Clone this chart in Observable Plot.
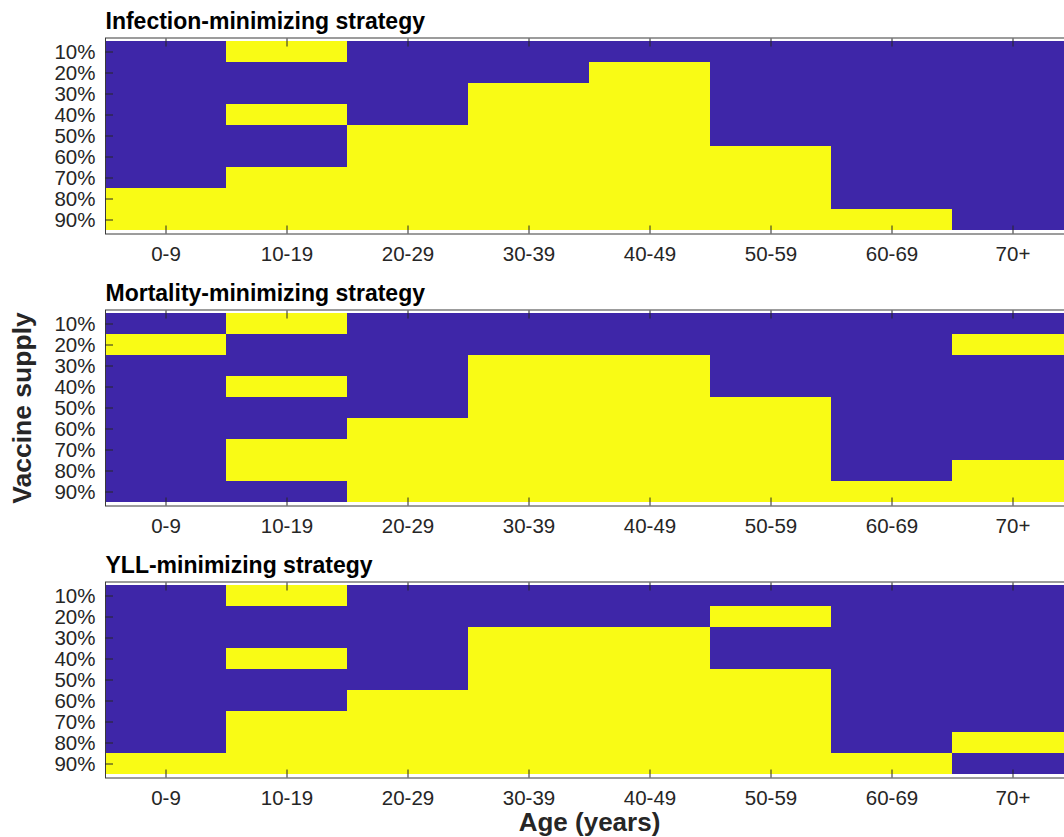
<!DOCTYPE html>
<html>
<head>
<meta charset="utf-8">
<script src="https://cdn.jsdelivr.net/npm/d3@7"></script>
<script src="https://cdn.jsdelivr.net/npm/@observablehq/plot@0.6"></script>
<style>
  html, body { margin: 0; padding: 0; background: #fff; overflow: hidden; width: 1064px; height: 837px; }
  #chart svg { display: block; max-width: none !important; }
</style>
</head>
<body>
<div id="chart"></div>
<script>
const ages = ["0-9", "10-19", "20-29", "30-39", "40-49", "50-59", "60-69", "70+"];
const supplies = ["10%", "20%", "30%", "40%", "50%", "60%", "70%", "80%", "90%"];
const titles = ["Infection-minimizing strategy", "Mortality-minimizing strategy", "YLL-minimizing strategy"];

// 1 = vaccinated (yellow), 0 = not (blue); rows = supply, cols = age group
const infection = [
  [0,1,0,0,0,0,0,0],
  [0,0,0,0,1,0,0,0],
  [0,0,0,1,1,0,0,0],
  [0,1,0,1,1,0,0,0],
  [0,0,1,1,1,0,0,0],
  [0,0,1,1,1,1,0,0],
  [0,1,1,1,1,1,0,0],
  [1,1,1,1,1,1,0,0],
  [1,1,1,1,1,1,1,0]
];
const mortality = [
  [0,1,0,0,0,0,0,0],
  [1,0,0,0,0,0,0,1],
  [0,0,0,1,1,0,0,0],
  [0,1,0,1,1,0,0,0],
  [0,0,0,1,1,1,0,0],
  [0,0,1,1,1,1,0,0],
  [0,1,1,1,1,1,0,0],
  [0,1,1,1,1,1,0,1],
  [0,0,1,1,1,1,1,1]
];
const yll = [
  [0,1,0,0,0,0,0,0],
  [0,0,0,0,0,1,0,0],
  [0,0,0,1,1,0,0,0],
  [0,1,0,1,1,0,0,0],
  [0,0,0,1,1,1,0,0],
  [0,0,1,1,1,1,0,0],
  [0,1,1,1,1,1,0,0],
  [0,1,1,1,1,1,0,1],
  [1,1,1,1,1,1,1,0]
];
const grids = [infection, mortality, yll];

const BLUE = "#3e26a8", YELLOW = "#f9fb15";
const FONT = "'Liberation Sans', Arial, Helvetica, sans-serif";

function panel(i) {
  const grid = grids[i];
  const cells = [];
  supplies.forEach((s, r) => ages.forEach((a, c) => cells.push({supply: s, age: a, v: grid[r][c]})));
  const last = i === 2;
  const marginBottom = last ? 59.5 : 38.5;
  const marginTop = 37.5;
  const frameH = 196;
  const marks = [
    Plot.cell(cells, {x: "age", y: "supply", fill: "v", shapeRendering: "crispEdges"}),
    Plot.frame({stroke: "#3a3a3a", strokeWidth: 1}),
    Plot.axisX({anchor: "bottom", tickSize: 8, dy: -8, text: null, label: null, stroke: "#262626"}),
    Plot.axisX({anchor: "top", tickSize: 8, dy: 8, text: null, label: null, stroke: "#262626"}),
    Plot.axisY({anchor: "left", tickSize: 8, dx: 8, text: null, label: null, stroke: "#262626"}),
    Plot.axisX({anchor: "bottom", tickSize: 0, tickPadding: 12, fill: "#262626", fontSize: 20.5, label: null}),
    Plot.axisY({anchor: "left", tickSize: 0, tickPadding: 10, fill: "#262626", fontSize: 20.5, label: null}),
    Plot.text([titles[i]], {frameAnchor: "top-left", dy: -9, lineAnchor: "bottom", textAnchor: "start", fontSize: 23, fontWeight: "bold", fill: "#000"})
  ];
  if (i === 1) {
    marks.push(Plot.text(["Vaccine supply"], {frameAnchor: "left", rotate: -90, dx: -83, textAnchor: "middle", lineAnchor: "middle", fontSize: 26.5, fontWeight: "bold", fill: "#262626"}));
  }
  if (last) {
    marks.push(Plot.text(["Age (years)"], {frameAnchor: "bottom", dy: 52.5, lineAnchor: "bottom", textAnchor: "middle", fontSize: 26, fontWeight: "bold", fill: "#262626"}));
  }
  return Plot.plot({
    width: 1080,
    height: marginTop + frameH + marginBottom,
    marginLeft: 105,
    marginRight: 7,
    marginTop,
    marginBottom,
    style: {fontFamily: FONT, background: "#fff", overflow: "visible", maxWidth: "none"},
    x: {type: "band", domain: ages, padding: 0, label: null},
    y: {type: "band", domain: supplies, padding: 0, label: null},
    color: {type: "ordinal", domain: [0, 1], range: [BLUE, YELLOW]},
    marks
  });
}

const root = document.getElementById("chart");
for (let i = 0; i < 3; i++) root.appendChild(panel(i));
</script>
</body>
</html>
